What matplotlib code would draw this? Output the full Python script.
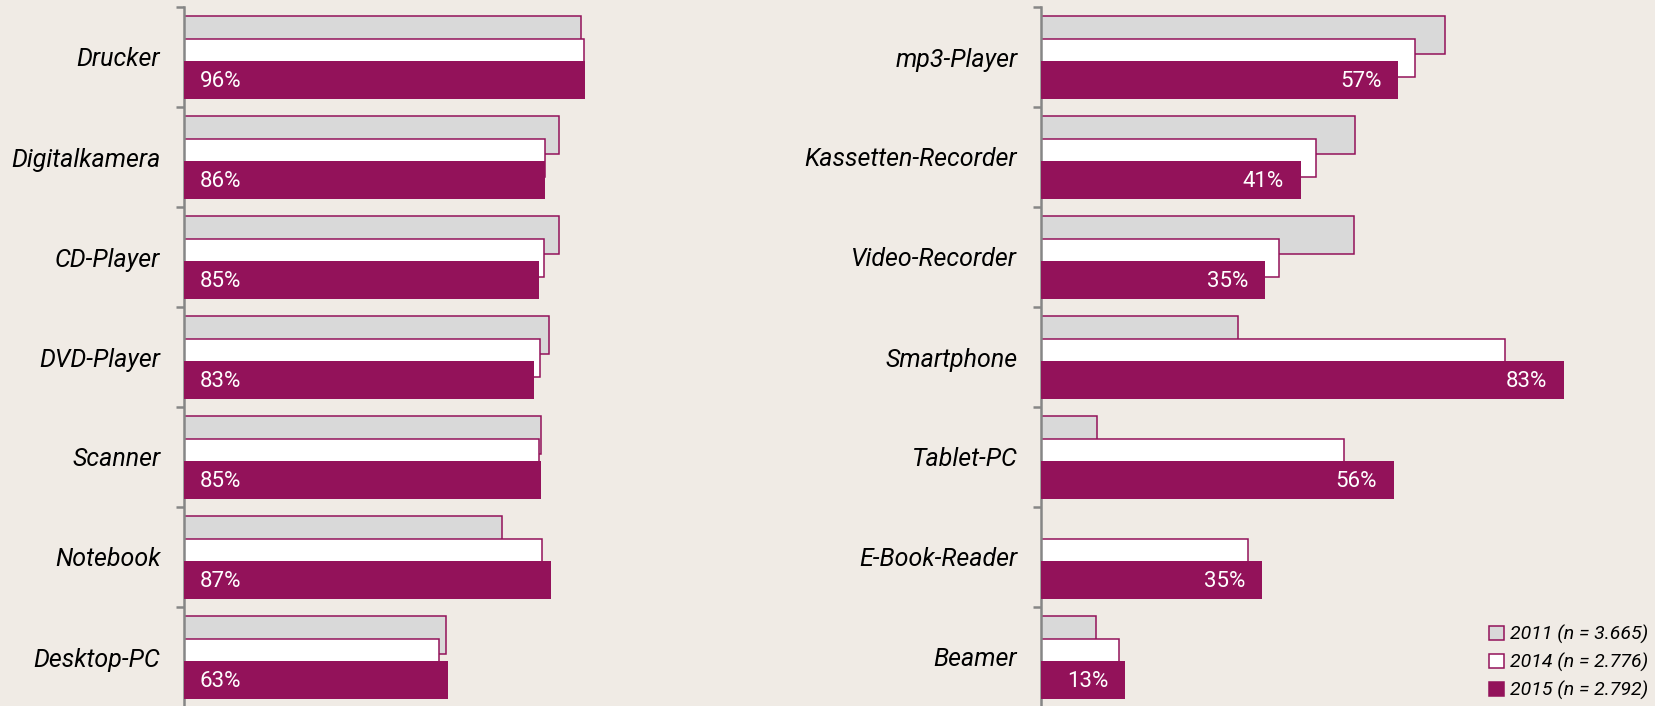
"""
    Geraetebesitz 2011 / 2014 / 2015 - two panel horizontal bar chart
"""

import matplotlib
matplotlib.use("Agg")
import matplotlib.pyplot as plt
from matplotlib.patches import Patch
import numpy as np

# left panel
cats_left = ["Drucker", "Digitalkamera", "CD-Player", "DVD-Player", "Scanner", "Notebook", "Desktop-PC"]
left_2011 = [94.8, 89.6, 89.5, 87.2, 85.3, 76.0, 62.6]
left_2014 = [95.5, 86.3, 85.9, 85.0, 84.9, 85.5, 60.9]
left_2015 = [96, 86, 85, 83, 85, 87, 63]
left_2015_exact = [95.9, 86.2, 84.8, 83.6, 85.2, 87.6, 63.0]

# right panel
cats_right = ["mp3-Player", "Kassetten-Recorder", "Video-Recorder", "Smartphone", "Tablet-PC", "E-Book-Reader", "Beamer"]
right_2011 = [64.1, 49.8, 49.7, 31.2, 8.9, 0.0, 8.7]
right_2014 = [59.4, 43.7, 37.7, 73.6, 48.1, 32.9, 12.4]
right_2015 = [57, 41, 35, 83, 56, 35, 13]
right_2015_exact = [56.7, 41.2, 35.6, 83.0, 56.0, 35.1, 13.4]

legend_labels = ["2011 (n = 3.665)", "2014 (n = 2.776)", "2015 (n = 2.792)"]

BG = "#f0ebe5"
PURPLE = "#93125a"
GREY = "#d9d9d9"
AXCOL = "#868686"

plt.rcParams["font.family"] = ["Roboto", "DejaVu Sans"]

W, H = 1656, 706


def draw_panel(ax, cats, v11, v14, v15_exact, v15, xmax, label_inside_left):
    n = len(cats)
    y = np.arange(n)
    h = 0.375
    ax.barh(y + 0.09 + h/2, v11, height=h, color=GREY, edgecolor=PURPLE, linewidth=1.1, zorder=1)
    ax.barh(y + 0.32 + h/2, v14, height=h, color="white", edgecolor=PURPLE, linewidth=1.1, zorder=2)
    ax.barh(y + 0.54 + h/2, v15_exact, height=h, color=PURPLE, edgecolor="none", zorder=3)

    for i in range(n):
        yc = i + 0.54 + h/2 + 0.02
        if label_inside_left:
            ax.annotate("{}%".format(v15[i]), xy=(0, yc), xytext=(11.5, 0), textcoords="offset points",
                        ha="left", va="center", color="white", fontsize=16, zorder=4)
        else:
            ax.annotate("{}%".format(v15[i]), xy=(v15_exact[i], yc), xytext=(-12, 0), textcoords="offset points",
                        ha="right", va="center", color="white", fontsize=16, zorder=4)

    ax.set_ylim(n, 0)
    ax.set_xlim(0, xmax)
    ax.set_facecolor("none")
    for s in ["top", "right", "bottom"]:
        ax.spines[s].set_visible(False)
    ax.spines["left"].set_color(AXCOL)
    ax.spines["left"].set_linewidth(1.8)
    ax.set_xticks([])

    ax.set_yticks(np.arange(n + 1))
    ax.set_yticklabels([])
    ax.tick_params(axis="y", which="major", length=6, width=1.8, color=AXCOL, direction="out")
    ax.set_yticks(y + 0.5, minor=True)
    ax.set_yticklabels(cats, minor=True, fontsize=18, style="italic")
    ax.tick_params(axis="y", which="minor", length=0, pad=17)


fig = plt.figure(figsize=(W/100, H/100), dpi=100)
fig.patch.set_facecolor(BG)

ax_l = fig.add_axes([184/W, -1/H, 420/W, 700/H])
draw_panel(ax_l, cats_left, left_2011, left_2014, left_2015_exact, left_2015, 420/4.186, True)

ax_r = fig.add_axes([1041/W, -1/H, 600/W, 700/H])
draw_panel(ax_r, cats_right, right_2011, right_2014, right_2015_exact, right_2015, 600/6.30, False)

handles = [Patch(facecolor=GREY, edgecolor=PURPLE, linewidth=1.1),
           Patch(facecolor="white", edgecolor=PURPLE, linewidth=1.1),
           Patch(facecolor=PURPLE, edgecolor=PURPLE, linewidth=1.1)]
leg = fig.legend(handles, legend_labels, loc="lower right", bbox_to_anchor=(1652/W, 2/H),
                 frameon=False, prop={"size": 14, "style": "italic"},
                 handlelength=0.75, handleheight=0.75, handletextpad=0.3, labelspacing=0.45,
                 borderpad=0.2, borderaxespad=0)

fig.savefig("out.png", dpi=100, facecolor=BG)
